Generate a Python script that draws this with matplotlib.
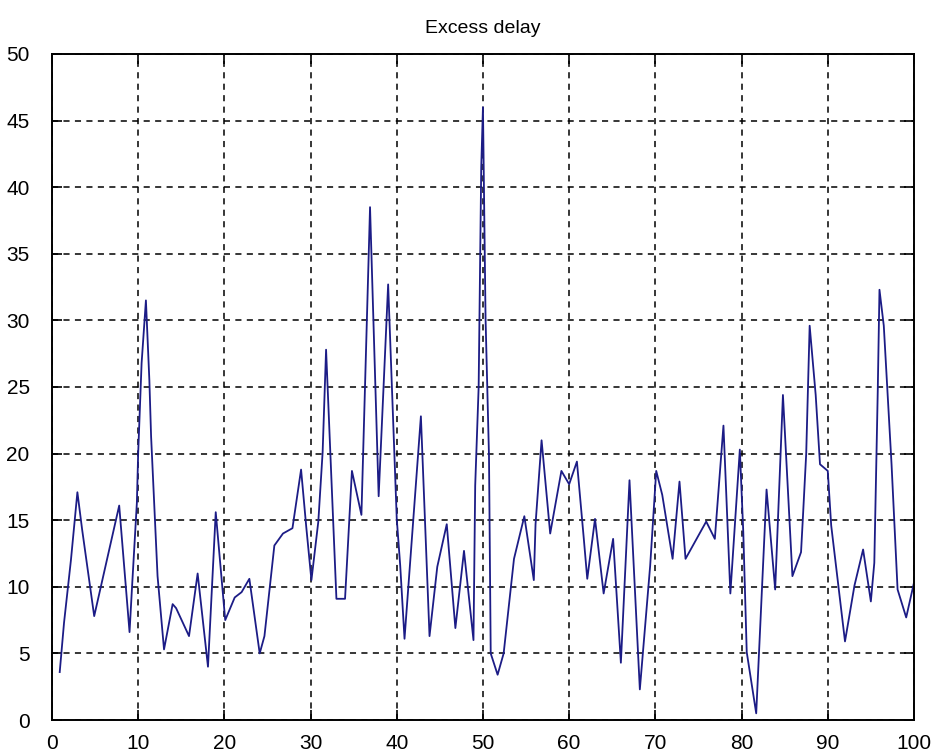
#!/usr/bin/env python3
# -*- coding: utf-8 -*-
"""
Excess delay trace, MATLAB style figure
"""

import numpy as np
import matplotlib
matplotlib.use('Agg')
import matplotlib.pyplot as plt

### DATA --------------------------------------------------------------------------
t = [0.9, 1.4, 2.2, 2.95, 3.5, 4.9, 7.8, 9.0, 9.3, 9.85, 10.0, 10.4, 10.9,
     11.3, 11.5, 12.25, 13.0, 14.0, 14.4, 15.9, 16.9, 18.1, 19.0, 20.1,
     21.2, 22.0, 22.9, 24.1, 24.65, 25.8, 26.8, 27.9, 28.9, 29.5, 30.1,
     30.9, 31.4, 31.8, 32.4, 33.0, 34.0, 34.8, 35.9, 36.9, 37.9, 39.0,
     40.0, 40.4, 40.9, 42.8, 43.8, 44.7, 45.8, 46.8, 47.8, 48.9, 49.1,
     49.5, 49.8, 50.0, 50.3, 50.7, 50.9, 51.7, 52.4, 53.6, 54.8, 55.9,
     56.1, 56.8, 57.8, 59.1, 60.0, 60.9, 61.7, 62.1, 63.0, 64.0, 65.1,
     66.0, 67.0, 68.2, 69.4, 70.1, 70.8, 72.0, 72.8, 73.5, 75.9, 76.9,
     77.9, 78.7, 79.8, 80.2, 80.6, 81.7, 82.9, 83.9, 84.8, 85.9, 86.9,
     87.1, 87.5, 87.9, 88.6, 89.1, 90.0, 90.4, 92.0, 93.1, 94.1, 95.0,
     95.4, 95.8, 96.0, 96.5, 97.4, 98.1, 99.1, 100.0]

delay = [3.6, 7.3, 12.0, 17.1, 14.3, 7.8, 16.1, 6.6, 10.1, 16.3, 20.0, 26.8, 31.5,
         25.5, 21.3, 10.8, 5.3, 8.7, 8.4, 6.3, 11.0, 4.0, 15.6, 7.5,
         9.2, 9.6, 10.6, 5.0, 6.3, 13.1, 14.0, 14.4, 18.8, 14.5, 10.5,
         14.9, 20.1, 27.8, 18.4, 9.1, 9.1, 18.7, 15.4, 38.5, 16.8, 32.7,
         15.1, 11.6, 6.1, 22.8, 6.3, 11.5, 14.7, 6.9, 12.7, 6.0, 17.6,
         25.0, 41.5, 46.0, 30.2, 19.8, 5.0, 3.4, 5.0, 12.1, 15.3, 10.5,
         14.7, 21.0, 14.0, 18.7, 17.7, 19.4, 13.6, 10.6, 15.1, 9.5, 13.6,
         4.3, 18.0, 2.3, 11.6, 18.7, 16.9, 12.1, 17.9, 12.1, 14.9, 13.6,
         22.1, 9.5, 20.3, 14.1, 5.1, 0.5, 17.3, 9.8, 24.4, 10.8, 12.6,
         15.0, 20.0, 29.6, 24.4, 19.2, 18.7, 14.6, 5.9, 10.1, 12.8, 8.9,
         11.8, 24.7, 32.3, 29.6, 19.2, 9.8, 7.7, 10.3]

xticks = np.arange(0, 101, 10)
yticks = np.arange(0, 51, 5)
###--------------------------------------------------------------------------------

plt.rcParams['font.family'] = ['Liberation Sans Narrow', 'Liberation Sans', 'DejaVu Sans']

fig = plt.figure(figsize=(9.43, 7.56), dpi=100)
ax = fig.add_axes([0.0551, 0.0476, 0.9141, 0.881])

ax.plot(t, delay, color='#1c1c86', linewidth=1.3)

ax.set_xlim(0, 100)
ax.set_ylim(0, 50)
ax.set_xticks(xticks)
ax.set_yticks(yticks)
ax.tick_params(direction='in', length=7, width=1.2, top=True, right=True,
               labelsize=15, colors='black')
ax.tick_params(axis='x', pad=10)
ax.tick_params(axis='y', pad=16)
ax.grid(True, color='black', linestyle=(0, (4, 3.5)), linewidth=1.1)
for s in ax.spines.values():
    s.set_linewidth(1.4)

ax.set_title('Excess delay', fontsize=14, pad=15)

plt.savefig('out.png', dpi=100)
plt.close()
